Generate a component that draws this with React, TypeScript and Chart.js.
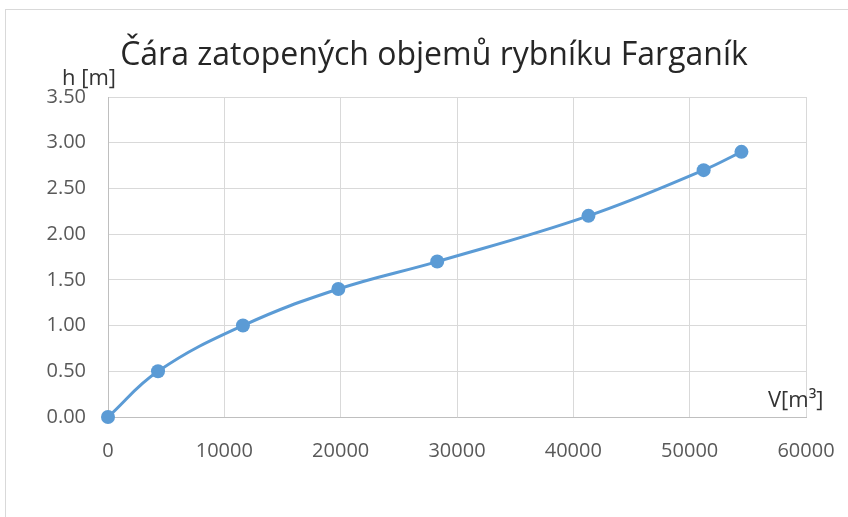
import React, { useEffect, useRef } from "react";
import { Chart, registerables } from "chart.js";

Chart.register(...registerables);

// Data
const volumes = [0, 4300, 11600, 19800, 28300, 41300, 51200, 54450];
const heights = [0, 0.5, 1.0, 1.4, 1.7, 2.2, 2.7, 2.9];
const chartTitle = "Čára zatopených objemů rybníku Farganík";
const yAxisLabel = "h [m]";
const xAxisLabel = "V[m³]";
const xRange = [0, 60000];
const xStep = 10000;
const yRange = [0, 3.5];
const yStep = 0.5;

const BLUE = "#5B9BD5";
const FONT = "'Open Sans', 'DejaVu Sans', sans-serif";

const decorPlugin = {
  id: "decor",
  beforeDraw(chart: any) {
    const ctx = chart.ctx;
    ctx.save();
    ctx.fillStyle = "#ffffff";
    ctx.fillRect(0, 0, chart.width, chart.height);
    ctx.strokeStyle = "#D9D9D9";
    ctx.lineWidth = 1;
    ctx.strokeRect(5.5, 9.5, 1000, 1000);
    ctx.restore();
  },
  afterDraw(chart: any) {
    const ctx = chart.ctx;
    ctx.save();
    ctx.textBaseline = "alphabetic";
    ctx.fillStyle = "#262626";
    ctx.font = `32px ${FONT}`;
    ctx.textAlign = "center";
    ctx.fillText(chartTitle, 434, 65);
    ctx.font = `22px ${FONT}`;
    ctx.textAlign = "left";
    ctx.fillStyle = "#333333";
    ctx.fillText(yAxisLabel, 62, 85);
    ctx.fillText(xAxisLabel, 768, 407);
    ctx.restore();
  },
};

export default function App() {
  const ref = useRef<HTMLCanvasElement | null>(null);
  useEffect(() => {
    if (!ref.current) return;
    const chart = new Chart(ref.current, {
      type: "scatter",
      data: {
        datasets: [
          {
            data: volumes.map((v, i) => ({ x: v, y: heights[i] })),
            showLine: true,
            clip: false,
            borderColor: BLUE,
            backgroundColor: BLUE,
            borderWidth: 3,
            pointRadius: 7,
            pointHoverRadius: 7,
            pointBackgroundColor: BLUE,
            pointBorderColor: BLUE,
            pointBorderWidth: 0,
            tension: 0.4,
          },
        ],
      },
      options: {
        animation: false,
        responsive: false,
        devicePixelRatio: 1,
        layout: { padding: { left: 0, top: 97, right: 42, bottom: 50 } },
        plugins: {
          legend: { display: false },
          title: { display: false },
          tooltip: { enabled: false },
        },
        scales: {
          x: {
            type: "linear",
            min: xRange[0],
            max: xRange[1],
            ticks: {
              stepSize: xStep,
              color: "#595959",
              font: { family: FONT, size: 20 },
              padding: 22,
              maxRotation: 0,
              callback: (v: any) => String(v),
            },
            grid: { color: "#D9D9D9", lineWidth: 1, drawTicks: false },
            border: { color: "#BFBFBF", width: 1 },
            afterFit: (s: any) => {
              s.height = 50;
              s.paddingLeft = 0;
              s.paddingRight = 0;
            },
          },
          y: {
            type: "linear",
            min: yRange[0],
            max: yRange[1],
            ticks: {
              stepSize: yStep,
              color: "#595959",
              font: { family: FONT, size: 20 },
              padding: 22,
              callback: (v: any) => Number(v).toFixed(2),
            },
            grid: { color: "#D9D9D9", lineWidth: 1, drawTicks: false },
            border: { color: "#BFBFBF", width: 1 },
            afterFit: (s: any) => {
              s.width = 108;
              s.paddingTop = 0;
              s.paddingBottom = 0;
            },
          },
        },
      },
      plugins: [decorPlugin],
    });
    return () => chart.destroy();
  }, []);
  return (
    <div style={{ position: "absolute", left: 0, top: 0, width: 848, height: 517 }}>
      <canvas ref={ref} width={848} height={517} style={{ display: "block" }} />
    </div>
  );
}
